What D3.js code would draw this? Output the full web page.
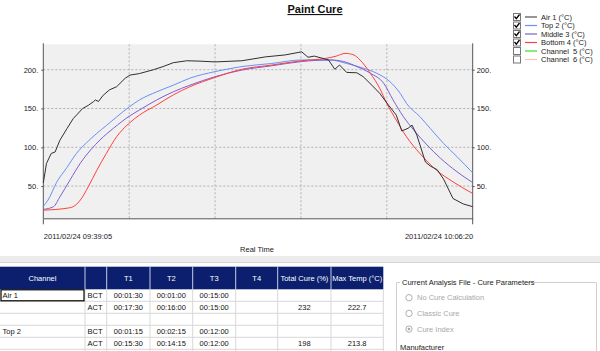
<!DOCTYPE html>
<html>
<head>
<meta charset="utf-8">
<script src="https://cdn.jsdelivr.net/npm/d3@7"></script>
<style>
  body { margin: 0; background: #fff; }
  svg text { font-family: "Liberation Sans", Arial, sans-serif; white-space: pre; }
</style>
</head>
<body>
<div id="chart"></div>
<script>
// time range of the logger run
const startTime = new Date(2011, 1, 24, 9, 39, 5);
const endTime = new Date(2011, 1, 24, 10, 6, 20);
const yTicks = [50, 100, 150, 200];

// minutes after start, temperature
const airMinutes = [0, 0.2, 0.5, 0.75, 1.05, 1.5, 1.9, 2.5, 2.85, 3.2, 3.3, 3.5, 3.8, 4.2, 4.65, 5.2, 5.5, 6.1, 7.0, 7.6, 8.25, 9.1, 9.95, 10.9, 12.6, 14.1, 15.35, 16.4, 16.8, 17.2, 18.1, 18.5, 18.8, 19.25, 19.9, 20.3, 20.85, 21.35, 21.9, 22.4, 22.75, 23.15, 23.4, 23.7, 24.25, 24.55, 25.0, 25.4, 26.0, 26.65, 27.25];
const airTemps = [54, 79, 92, 94, 109, 124, 137, 150, 154, 159, 161, 159, 167, 174, 178, 189, 193, 195, 200, 204, 209, 211.5, 211, 210, 211.5, 216.5, 219, 223, 216, 217.5, 212.5, 200.5, 206, 196.5, 196, 191, 180, 169.5, 154.5, 141.5, 121, 124.5, 128.5, 116, 81, 76, 71, 59, 34, 27, 23.5];

const topMinutes = [0, 0.3, 0.85, 1.5, 2.1, 2.75, 3.4, 4.0, 4.65, 5.45, 6.1, 7.2, 8.25, 9.3, 10.9, 12.6, 14.5, 16.4, 18.2, 19.25, 20.3, 21.15, 22.0, 22.65, 23.05, 23.9, 24.55, 25.4, 26.25, 27.25];
const topTemps = [24, 32, 55, 74, 92, 106, 118, 128, 139, 152, 161, 171.5, 180, 189, 197.5, 204, 208, 212.5, 212.5, 208, 202, 195.5, 184.5, 169.5, 156.5, 139.5, 124.5, 105, 88, 67];

const middleMinutes = [0, 0.65, 1.05, 1.7, 2.35, 3.0, 3.6, 4.45, 5.45, 6.1, 7.2, 8.25, 9.3, 10.9, 12.6, 14.5, 16.4, 18.2, 19.05, 19.9, 20.75, 21.6, 22.2, 22.85, 23.5, 24.35, 25.2, 26.25, 27.25];
const middleTemps = [20, 23.5, 36, 58, 79.5, 96.5, 109.5, 124.5, 140, 148, 161, 171.5, 180, 191, 199.5, 205, 210.5, 212.5, 210.5, 204, 195.5, 182.5, 161, 139.5, 122.5, 103, 86, 68.5, 54.5];

const bottomMinutes = [0, 1.5, 1.9, 2.35, 2.85, 3.4, 4.0, 4.65, 5.45, 6.1, 7.2, 8.25, 9.3, 10.9, 12.6, 14.5, 16.4, 17.9, 18.6, 19.15, 19.7, 20.1, 20.75, 21.35, 21.8, 22.4, 23.05, 23.9, 24.95, 26.0, 27.25];
const bottomTemps = [19, 21.5, 23.5, 32, 49, 70.5, 92, 113.5, 131, 141.5, 154.5, 167.5, 178, 190, 200.5, 206, 211.5, 214.5, 217.5, 221, 219, 212.5, 195.5, 176, 156.5, 135, 113.5, 92, 70.5, 55.5, 40.5];

const channelNames = ["Air 1 (°C)", "Top 2 (°C)", "Middle 3 (°C)", "Bottom 4 (°C)", "Channel  5 (°C)", "Channel  6 (°C)"];
const channelChecked = [true, true, true, true, false, false];
const channelColors = ["#505050", "#6b8ff5", "#7d5fd2", "#ff3f3f", "#33dd33", "#ffc4b4"];

const tableHeaders = ["Channel", "", "T1", "T2", "T3", "T4", "Total Cure (%)", "Max Temp (°C)"];
const tableRows = [
  ["Air 1", "BCT", "00:01:30", "00:01:00", "00:15:00", "", "", ""],
  ["", "ACT", "00:17:30", "00:16:00", "00:15:00", "", "232", "222.7"],
  ["", "", "", "", "", "", "", ""],
  ["Top 2", "BCT", "00:01:15", "00:02:15", "00:12:00", "", "", ""],
  ["", "ACT", "00:15:30", "00:14:15", "00:12:00", "", "198", "213.8"],
  ["", "", "", "", "", "", "", ""]
];
const cureOptions = ["No Cure Calculation", "Classic Cure", "Cure Index"];

const width = 600, height = 351;
const plot = {left: 43.3, right: 472.7, top: 44.3, bottom: 218.3};

const svg = d3.select("#chart").append("svg")
  .attr("width", width).attr("height", height);

const toDate = m => new Date(startTime.getTime() + m * 60000);

const x = d3.scaleTime().domain([startTime, endTime]).range([plot.left, plot.right]);
const y = d3.scaleLinear().domain([8.5, 232.7]).range([plot.bottom, plot.top]);

// plot background
svg.append("rect")
  .attr("x", plot.left).attr("y", plot.top)
  .attr("width", plot.right - plot.left).attr("height", plot.bottom - plot.top)
  .attr("fill", "#f0f0f0");

// grid
const span = endTime - startTime;
const xGrid = d3.range(1, 5).map(i => new Date(startTime.getTime() + i * span / 5));
svg.append("g").selectAll("line").data(xGrid).enter().append("line")
  .attr("x1", d => x(d)).attr("x2", d => x(d))
  .attr("y1", plot.top).attr("y2", plot.bottom)
  .attr("stroke", "#b0b0b0").attr("stroke-dasharray", "2,2");
svg.append("g").selectAll("line").data(yTicks).enter().append("line")
  .attr("x1", plot.left).attr("x2", plot.right)
  .attr("y1", d => y(d)).attr("y2", d => y(d))
  .attr("stroke", "#b0b0b0").attr("stroke-dasharray", "2,2");

// axes
const fmtY = d => d + ".";
const leftAxis = svg.append("g").attr("transform", `translate(${plot.left},0)`)
  .call(d3.axisLeft(y).tickValues(yTicks).tickFormat(fmtY).tickSize(2).tickPadding(3));
const rightAxis = svg.append("g").attr("transform", `translate(${plot.right},0)`)
  .call(d3.axisRight(y).tickValues(yTicks).tickFormat(fmtY).tickSize(2).tickPadding(2));
[leftAxis, rightAxis].forEach(a => {
  a.select(".domain").remove();
  a.selectAll("text").attr("font-size", 7.5).attr("fill", "#222");
  a.selectAll("line").attr("stroke", "#555");
});
const axisColor = "#555";
svg.append("line").attr("x1", plot.left).attr("x2", plot.left)
  .attr("y1", plot.top - 1).attr("y2", plot.bottom + 6).attr("stroke", axisColor);
svg.append("line").attr("x1", plot.right).attr("x2", plot.right)
  .attr("y1", plot.top - 1).attr("y2", plot.bottom + 6).attr("stroke", axisColor);

const bottomAxis = svg.append("g").attr("transform", `translate(0,${plot.bottom})`)
  .call(d3.axisBottom(x).tickValues([startTime, endTime])
    .tickFormat(d3.timeFormat("%Y/%m/%d %H:%M:%S")).tickSize(0).tickPadding(15));
bottomAxis.select(".domain").attr("stroke", axisColor);
bottomAxis.selectAll("text")
  .attr("font-size", 7.5).attr("fill", "#222")
  .attr("text-anchor", (d, i) => i === 0 ? "start" : "end");

svg.append("text")
  .attr("x", 257).attr("y", 252)
  .attr("text-anchor", "middle").attr("font-size", 7.5).attr("fill", "#222")
  .text("Real Time");

// title
svg.append("text")
  .attr("x", 315).attr("y", 13)
  .attr("text-anchor", "middle").attr("font-size", 11).attr("font-weight", "bold")
  .attr("text-decoration", "underline").attr("fill", "#111")
  .text("Paint Cure");

// series
const series = [
  {minutes: topMinutes, temps: topTemps, color: channelColors[1], curve: d3.curveMonotoneX},
  {minutes: middleMinutes, temps: middleTemps, color: channelColors[2], curve: d3.curveMonotoneX},
  {minutes: bottomMinutes, temps: bottomTemps, color: channelColors[3], curve: d3.curveMonotoneX},
  {minutes: airMinutes, temps: airTemps, color: "#303030", curve: d3.curveLinear}
];
series.forEach(s => {
  const line = d3.line().x(d => x(toDate(d[0]))).y(d => y(d[1])).curve(s.curve);
  svg.append("path")
    .datum(s.minutes.map((m, i) => [m, s.temps[i]]))
    .attr("d", line)
    .attr("fill", "none").attr("stroke", s.color).attr("stroke-width", 1);
});

// legend
const legend = svg.append("g").attr("transform", "translate(513,13)");
const item = legend.selectAll("g").data(channelNames).enter().append("g")
  .attr("transform", (d, i) => `translate(0,${i * 8.5})`);
item.append("rect").attr("x", 0.5).attr("y", 0.5).attr("width", 7).attr("height", 7)
  .attr("fill", "#fff").attr("stroke", "#777");
item.filter((d, i) => channelChecked[i]).append("path")
  .attr("d", "M1.5,3.5 L3.3,5.6 L6.5,1.5")
  .attr("fill", "none").attr("stroke", "#000").attr("stroke-width", 1.3);
item.append("line").attr("x1", 12).attr("x2", 24).attr("y1", 4).attr("y2", 4)
  .attr("stroke", (d, i) => channelColors[i]).attr("stroke-width", 1.2);
item.append("text").attr("x", 28).attr("y", 6.8)
  .attr("font-size", 7.5).attr("fill", "#222").text(d => d);

// table
const tableTop = 266.7, headH = 22.6, rowH = 12;
const colX = [0, 85, 106.7, 150, 192.7, 235.7, 277.7, 331, 383.3];

svg.append("rect").attr("x", 0).attr("y", 256).attr("width", width).attr("height", 6)
  .attr("fill", "#ececec");
svg.append("line").attr("x1", 0).attr("x2", width).attr("y1", 262.5).attr("y2", 262.5)
  .attr("stroke", "#d4d4d4");

const table = svg.append("g");
table.append("rect").attr("x", 0).attr("y", tableTop)
  .attr("width", colX[8]).attr("height", headH).attr("fill", "#0b1f6e");
tableHeaders.forEach((h, i) => {
  if (i > 0) {
    table.append("line").attr("x1", colX[i]).attr("x2", colX[i])
      .attr("y1", tableTop).attr("y2", tableTop + headH).attr("stroke", "#c8cde0");
  }
  table.append("text")
    .attr("x", (colX[i] + colX[i + 1]) / 2).attr("y", tableTop + headH / 2 + 2.7)
    .attr("text-anchor", "middle").attr("font-size", 7.5).attr("fill", "#fff")
    .text(h);
});
const bodyTop = tableTop + headH;
tableRows.forEach((row, r) => {
  const ry = bodyTop + r * rowH;
  table.append("line").attr("x1", 0).attr("x2", colX[8])
    .attr("y1", ry + rowH).attr("y2", ry + rowH).attr("stroke", "#d8d8d8");
  row.forEach((v, c) => {
    if (!v) return;
    const left = c < 2;
    table.append("text")
      .attr("x", left ? colX[c] + 2.5 : (colX[c] + colX[c + 1]) / 2)
      .attr("y", ry + 8.8)
      .attr("text-anchor", left ? "start" : "middle")
      .attr("font-size", 7.5).attr("fill", "#111").text(v);
  });
});
colX.slice(1).forEach(cx => {
  table.append("line").attr("x1", cx).attr("x2", cx)
    .attr("y1", bodyTop).attr("y2", height).attr("stroke", "#d8d8d8");
});
// focused cell
table.append("rect").attr("x", 1).attr("y", bodyTop + 0.5)
  .attr("width", colX[1] - 2).attr("height", rowH - 1)
  .attr("fill", "none").attr("stroke", "#000").attr("stroke-width", 1.2);

// cure parameter group box
const box = svg.append("g");
box.append("path")
  .attr("d", "M527,282.5 H596.5 V351 M396.5,351 V282.5 H400")
  .attr("fill", "none").attr("stroke", "#cfcfcf");
box.append("text").attr("x", 402).attr("y", 284.5)
  .attr("font-size", 7.5).attr("fill", "#222")
  .text("Current Analysis File - Cure Parameters");
cureOptions.forEach((o, i) => {
  const cy = 297.7 + i * 15.7;
  box.append("circle").attr("cx", 409).attr("cy", cy).attr("r", 3.2)
    .attr("fill", "#fff").attr("stroke", "#b0b0b0");
  if (i === 2) box.append("circle").attr("cx", 409).attr("cy", cy).attr("r", 1.4).attr("fill", "#aaa");
  box.append("text").attr("x", 417).attr("y", cy + 2.6)
    .attr("font-size", 7.5).attr("fill", "#a8a8a8").text(o);
});
box.append("text").attr("x", 400).attr("y", 349.5)
  .attr("font-size", 7.5).attr("fill", "#222").text("Manufacturer");
</script>
</body>
</html>
